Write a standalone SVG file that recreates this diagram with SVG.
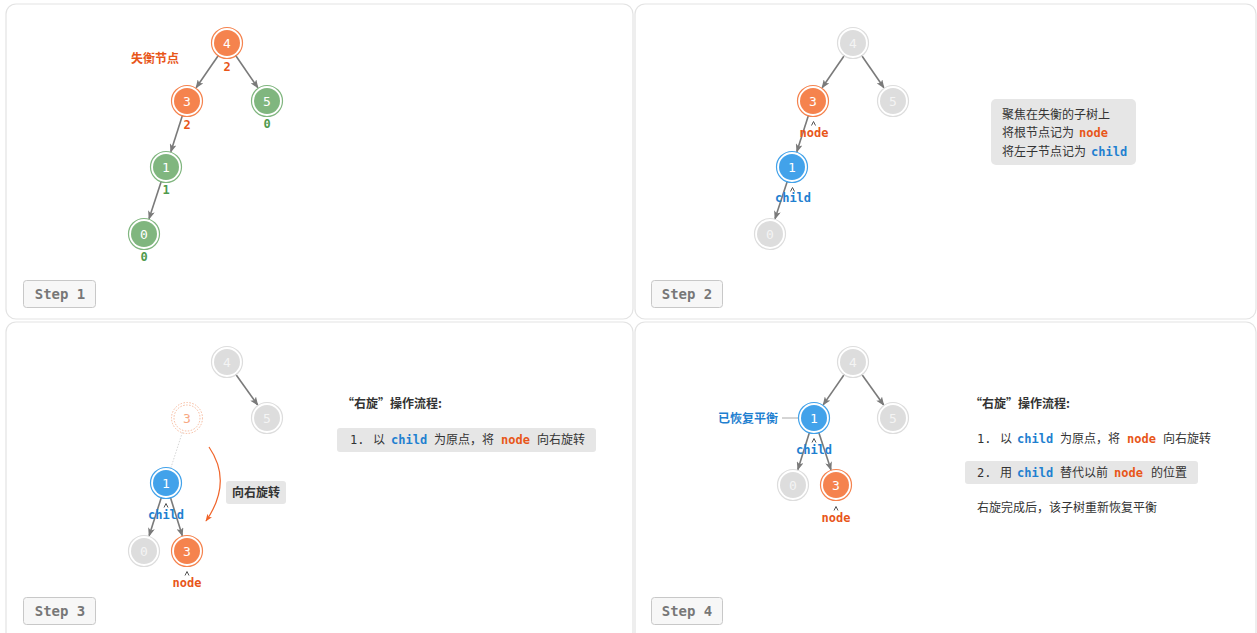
<svg xmlns="http://www.w3.org/2000/svg" width="1257" height="633" viewBox="0 0 1257 633">
<style>
.panel{fill:#fff;stroke:#e3e3e3;stroke-width:1.2}
.btn{fill:#f7f7f7;stroke:#c8c8c8;stroke-width:1}
.btnt{font-family:"DejaVu Sans Mono",monospace;font-weight:bold;font-size:14px;fill:#777;text-anchor:middle}
.nt{font-family:"DejaVu Sans Mono",monospace;font-size:13px;fill:#fff;text-anchor:middle}
.or .f{fill:#f5834e}.or .r{fill:none;stroke:#f5834e;stroke-width:1.2}
.gr .f{fill:#80b67f}.gr .r{fill:none;stroke:#80b67f;stroke-width:1.2}
.bl .f{fill:#42a2ea}.bl .r{fill:none;stroke:#42a2ea;stroke-width:1.2}
.gy .f{fill:#dddddd}.gy .r{fill:none;stroke:#dddddd;stroke-width:1.2}
.gy .nt{fill:#f4f4f4}
.gh .f{fill:#fff;stroke:#f7b99c;stroke-width:1;stroke-dasharray:1.5 1.5}.gh .r{fill:none;stroke:#f7b99c;stroke-width:1;stroke-dasharray:1.5 1.5}
.gh .nt{fill:#f7a882}
.edge{stroke:#7a7a7a;stroke-width:1.6;fill:none;marker-end:url(#ah)}
.code{font-family:"DejaVu Sans Mono",monospace;font-weight:bold;font-size:12px}
.co{fill:#e8561a}.cb{fill:#1f80d0}.cg{fill:#4f9a4c}
.cn{font-family:"Noto Sans CJK SC",sans-serif;font-size:12px;fill:#333}
.cnb{font-family:"Noto Sans CJK SC",sans-serif;font-size:12px;font-weight:bold}
.mono{font-family:"DejaVu Sans Mono",monospace;font-size:12px;fill:#333}
.mid{text-anchor:middle}
.caret{fill:none;stroke:#555;stroke-width:1}
.tbox{fill:#e6e6e6}
</style>
<defs>
<marker id="ah" viewBox="0 0 10 8" refX="9" refY="4" markerWidth="9" markerHeight="7" orient="auto" markerUnits="userSpaceOnUse">
<path d="M0,0 L10,4 L0,8 L2.5,4 z" fill="#7a7a7a"/>
</marker>
<marker id="aho" viewBox="0 0 10 8" refX="9" refY="4" markerWidth="8" markerHeight="6" orient="auto" markerUnits="userSpaceOnUse">
<path d="M0,0 L10,4 L0,8 L2.5,4 z" fill="#f0642a"/>
</marker>
</defs>
<rect width="1257" height="633" fill="#fff"/>
<g id="panels">
<rect class="panel" x="6" y="4" width="627" height="315" rx="10"/>
<rect class="panel" x="635" y="4" width="621" height="315" rx="10"/>
<rect class="panel" x="6" y="322" width="627" height="320" rx="10"/>
<rect class="panel" x="635" y="322" width="621" height="320" rx="10"/>
</g>
<g id="buttons">
<rect class="btn" x="23.5" y="280.5" width="72" height="27" rx="3"/><text class="btnt" x="60" y="299">Step 1</text>
<rect class="btn" x="651.5" y="280.5" width="71" height="27" rx="3"/><text class="btnt" x="687" y="299">Step 2</text>
<rect class="btn" x="23.5" y="597.5" width="72" height="27" rx="3"/><text class="btnt" x="60" y="616">Step 3</text>
<rect class="btn" x="651.5" y="597.5" width="71" height="27" rx="3"/><text class="btnt" x="687" y="616">Step 4</text>
</g>
<g id="connectors">
<line class="edge" x1="218.5" y1="55.3" x2="196.1" y2="87.8"/>
<line class="edge" x1="235.5" y1="55.3" x2="257.9" y2="87.8"/>
<line class="edge" x1="182.5" y1="115.3" x2="170.8" y2="151.8"/>
<line class="edge" x1="161.3" y1="181.3" x2="149" y2="218.8"/>
<line class="edge" x1="844.5" y1="55.3" x2="822.1" y2="87.8"/>
<line class="edge" x1="861.5" y1="55.3" x2="883.9" y2="87.8"/>
<line class="edge" x1="808.5" y1="115.3" x2="796.8" y2="151.8"/>
<line class="edge" x1="787.3" y1="181.3" x2="775" y2="218.8"/>
<line class="edge" x1="235.7" y1="374.2" x2="257.7" y2="405"/>
<line class="edge" x1="161.4" y1="497.3" x2="149.1" y2="535.8"/>
<line class="edge" x1="170.4" y1="497.3" x2="182.3" y2="535.7"/>
<line x1="182.4" y1="432.3" x2="170.6" y2="468.7" stroke="#cccccc" stroke-width="0.8" stroke-dasharray="1.5 1.5"/>
<path d="M209,447 Q233,482 206,521" fill="none" stroke="#f0642a" stroke-width="1.2" marker-end="url(#aho)"/>
<line class="edge" x1="844.4" y1="374.3" x2="823.2" y2="404.9"/>
<line class="edge" x1="861.7" y1="374.2" x2="883.7" y2="405"/>
<line class="edge" x1="809.5" y1="432.3" x2="797.8" y2="469.7"/>
<line class="edge" x1="818.7" y1="432.3" x2="831" y2="469.8"/>
<line x1="782" y1="418" x2="799" y2="418" stroke="#aaaaaa" stroke-width="1"/>
</g>
<g id="p1n4" class="or" transform="translate(227,43)"><circle class="f" r="13"/><circle class="r" r="15.5"/><text class="nt" y="4.5">4</text></g>
<g id="p1n3" class="or" transform="translate(187,101)"><circle class="f" r="13"/><circle class="r" r="15.5"/><text class="nt" y="4.5">3</text></g>
<g id="p1n5" class="gr" transform="translate(267,101)"><circle class="f" r="13"/><circle class="r" r="15.5"/><text class="nt" y="4.5">5</text></g>
<g id="p1n1" class="gr" transform="translate(166,167)"><circle class="f" r="13"/><circle class="r" r="15.5"/><text class="nt" y="4.5">1</text></g>
<g id="p1n0" class="gr" transform="translate(144,234)"><circle class="f" r="13"/><circle class="r" r="15.5"/><text class="nt" y="4.5">0</text></g>
<g id="p1labels">
<text class="code co mid" x="227" y="71">2</text>
<text class="code co mid" x="187" y="129">2</text>
<text class="code cg mid" x="267" y="128">0</text>
<text class="code cg mid" x="166" y="194">1</text>
<text class="code cg mid" x="144" y="261">0</text>
<text class="cnb co" x="131" y="62.5">失衡节点</text>
</g>
<g id="p2n4" class="gy" transform="translate(853,43)"><circle class="f" r="13"/><circle class="r" r="15.5"/><text class="nt" y="4.5">4</text></g>
<g id="p2n3" class="or" transform="translate(813,101)"><circle class="f" r="13"/><circle class="r" r="15.5"/><text class="nt" y="4.5">3</text></g>
<g id="p2n5" class="gy" transform="translate(893,101)"><circle class="f" r="13"/><circle class="r" r="15.5"/><text class="nt" y="4.5">5</text></g>
<g id="p2n1" class="bl" transform="translate(792,167)"><circle class="f" r="13"/><circle class="r" r="15.5"/><text class="nt" y="4.5">1</text></g>
<g id="p2n0" class="gy" transform="translate(770,234)"><circle class="f" r="13"/><circle class="r" r="15.5"/><text class="nt" y="4.5">0</text></g>
<g id="p2labels">
<path class="caret" d="M811.5,125.5 L813.5,121.5 L815.5,125.5"/>
<text class="code co mid" x="814" y="137">node</text>
<path class="caret" d="M790.5,191.5 L792.5,187.5 L794.5,191.5"/>
<text class="code cb mid" x="793" y="202">child</text>
</g>
<g id="p2box">
<rect class="tbox" x="991" y="99" width="145" height="66" rx="5"/>
<text class="cn" x="1002" y="118.5">聚焦在失衡的子树上</text>
<text class="cn" x="1002" y="137">将根节点记为</text><text class="code co" x="1079" y="137">node</text>
<text class="cn" x="1002" y="155.5">将左子节点记为</text><text class="code cb" x="1091" y="155.5">child</text>
</g>
<g id="p3n4" class="gy" transform="translate(227,362)"><circle class="f" r="13"/><circle class="r" r="15.5"/><text class="nt" y="4.5">4</text></g>
<g id="p3n5" class="gy" transform="translate(267,418)"><circle class="f" r="13"/><circle class="r" r="15.5"/><text class="nt" y="4.5">5</text></g>
<g id="p3ghost3" class="gh" transform="translate(187,418)"><circle class="f" r="13"/><circle class="r" r="15.5"/><text class="nt" y="4.5">3</text></g>
<g id="p3n1" class="bl" transform="translate(166,483)"><circle class="f" r="13"/><circle class="r" r="15.5"/><text class="nt" y="4.5">1</text></g>
<g id="p3n0" class="gy" transform="translate(144,551)"><circle class="f" r="13"/><circle class="r" r="15.5"/><text class="nt" y="4.5">0</text></g>
<g id="p3n3" class="or" transform="translate(187,551)"><circle class="f" r="13"/><circle class="r" r="15.5"/><text class="nt" y="4.5">3</text></g>
<g id="p3labels">
<path class="caret" d="M164,507.5 L166,503.5 L168,507.5"/>
<text class="code cb mid" x="166" y="519">child</text>
<path class="caret" d="M185,575.5 L187,571.5 L189,575.5"/>
<text class="code co mid" x="187" y="587">node</text>
<rect class="tbox" x="226" y="481" width="60" height="23" rx="3"/>
<text class="cnb mid" x="256" y="496.5" fill="#333">向右旋转</text>
</g>
<g id="p3text">
<text class="cnb" x="342" y="407.5" fill="#333">“右旋”操作流程:</text>
<rect class="tbox" x="337" y="428" width="259" height="24" rx="3"/>
<text class="mono" x="350" y="444">1.</text><text class="cn" x="373" y="444">以</text><text class="code cb" x="391" y="444">child</text><text class="cn" x="434" y="444">为原点，将</text><text class="code co" x="501" y="444">node</text><text class="cn" x="537" y="444">向右旋转</text>
</g>
<g id="p4n4" class="gy" transform="translate(853,362)"><circle class="f" r="13"/><circle class="r" r="15.5"/><text class="nt" y="4.5">4</text></g>
<g id="p4n1" class="bl" transform="translate(814,418)"><circle class="f" r="13"/><circle class="r" r="15.5"/><text class="nt" y="4.5">1</text></g>
<g id="p4n5" class="gy" transform="translate(893,418)"><circle class="f" r="13"/><circle class="r" r="15.5"/><text class="nt" y="4.5">5</text></g>
<g id="p4n0" class="gy" transform="translate(793,485)"><circle class="f" r="13"/><circle class="r" r="15.5"/><text class="nt" y="4.5">0</text></g>
<g id="p4n3" class="or" transform="translate(836,485)"><circle class="f" r="13"/><circle class="r" r="15.5"/><text class="nt" y="4.5">3</text></g>
<g id="p4labels">
<text class="cnb cb" x="718" y="422.5">已恢复平衡</text>
<path class="caret" d="M812,442.5 L814,438.5 L816,442.5"/>
<text class="code cb mid" x="814" y="454">child</text>
<path class="caret" d="M834,510.5 L836,506.5 L838,510.5"/>
<text class="code co mid" x="836" y="522">node</text>
</g>
<g id="p4text">
<text class="cnb" x="970" y="407.5" fill="#333">“右旋”操作流程:</text>
<text class="mono" x="977" y="443">1.</text><text class="cn" x="1000" y="443">以</text><text class="code cb" x="1017" y="443">child</text><text class="cn" x="1060" y="443">为原点，将</text><text class="code co" x="1127" y="443">node</text><text class="cn" x="1163" y="443">向右旋转</text>
<rect class="tbox" x="965" y="461" width="233" height="23" rx="3"/>
<text class="mono" x="977" y="476.5">2.</text><text class="cn" x="1000" y="476.5">用</text><text class="code cb" x="1017" y="476.5">child</text><text class="cn" x="1060" y="476.5">替代以前</text><text class="code co" x="1114" y="476.5">node</text><text class="cn" x="1151" y="476.5">的位置</text>
<text class="cn" x="977" y="512">右旋完成后，该子树重新恢复平衡</text>
</g>
</svg>
